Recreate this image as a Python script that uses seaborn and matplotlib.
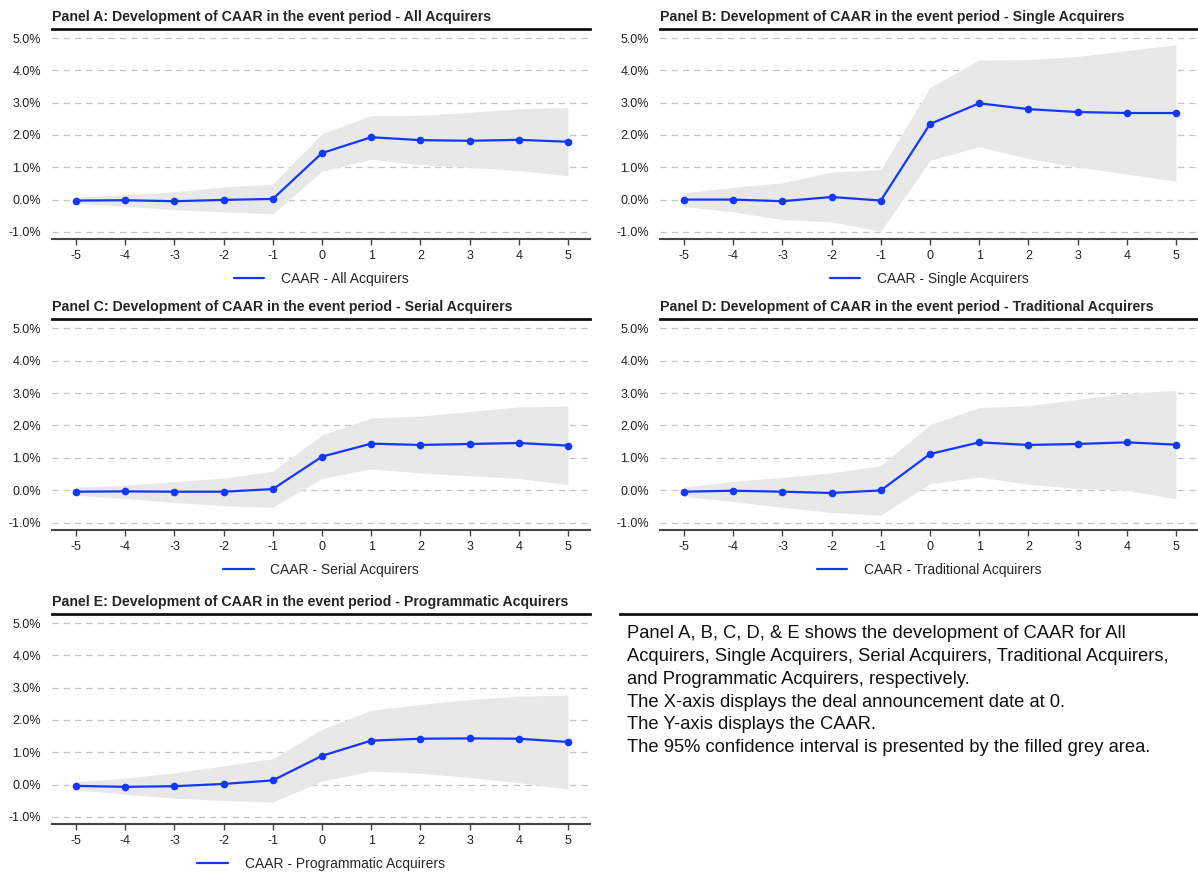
import numpy as np
import pandas as pd
import matplotlib
matplotlib.use("Agg")
import matplotlib.pyplot as plt
import seaborn as sns

# event window
event_days = [-5, -4, -3, -2, -1, 0, 1, 2, 3, 4, 5]

# CAAR in percent
caar_all = [-0.03, -0.02, -0.05, -0.01, 0.02, 1.44, 1.93, 1.84, 1.82, 1.85, 1.79]
upper_all = [0.08, 0.15, 0.24, 0.39, 0.48, 2.04, 2.60, 2.61, 2.70, 2.81, 2.85]
lower_all = [-0.11, -0.21, -0.31, -0.38, -0.44, 0.88, 1.25, 1.08, 1.00, 0.90, 0.74]

caar_single = [0.00, 0.00, -0.05, 0.08, -0.03, 2.34, 2.98, 2.80, 2.71, 2.68, 2.68]
upper_single = [0.21, 0.38, 0.52, 0.85, 0.93, 3.47, 4.32, 4.33, 4.43, 4.61, 4.79]
lower_single = [-0.21, -0.38, -0.62, -0.69, -0.98, 1.21, 1.64, 1.27, 1.01, 0.79, 0.57]

caar_serial = [-0.04, -0.03, -0.04, -0.04, 0.04, 1.04, 1.44, 1.40, 1.43, 1.46, 1.38]
upper_serial = [0.10, 0.16, 0.27, 0.38, 0.59, 1.71, 2.23, 2.29, 2.43, 2.57, 2.60]
lower_serial = [-0.15, -0.25, -0.37, -0.47, -0.52, 0.37, 0.66, 0.54, 0.45, 0.37, 0.18]

caar_trad = [-0.04, -0.01, -0.04, -0.08, 0.00, 1.12, 1.48, 1.40, 1.43, 1.48, 1.41]
upper_trad = [0.10, 0.28, 0.40, 0.54, 0.76, 2.03, 2.55, 2.61, 2.80, 2.99, 3.08]
lower_trad = [-0.19, -0.34, -0.52, -0.68, -0.76, 0.21, 0.41, 0.19, 0.06, 0.00, -0.26]

caar_prog = [-0.04, -0.07, -0.05, 0.02, 0.13, 0.89, 1.36, 1.42, 1.43, 1.42, 1.32]
upper_prog = [0.09, 0.20, 0.36, 0.58, 0.80, 1.71, 2.30, 2.48, 2.63, 2.74, 2.77]
lower_prog = [-0.16, -0.30, -0.42, -0.49, -0.54, 0.11, 0.42, 0.35, 0.22, 0.06, -0.14]

panel_letters = ["A", "B", "C", "D", "E"]
group_names = ["All Acquirers", "Single Acquirers", "Serial Acquirers",
               "Traditional Acquirers", "Programmatic Acquirers"]
caar_series = [caar_all, caar_single, caar_serial, caar_trad, caar_prog]
upper_series = [upper_all, upper_single, upper_serial, upper_trad, upper_prog]
lower_series = [lower_all, lower_single, lower_serial, lower_trad, lower_prog]

y_ticks = [-1, 0, 1, 2, 3, 4, 5]

note_text = ("Panel A, B, C, D, & E shows the development of CAAR for All\n"
             "Acquirers, Single Acquirers, Serial Acquirers, Traditional Acquirers,\n"
             "and Programmatic Acquirers, respectively.\n"
             "The X-axis displays the deal announcement date at 0.\n"
             "The Y-axis displays the CAAR.\n"
             "The 95% confidence interval is presented by the filled grey area.")

sns.set_style("white")
plt.rcParams['font.family'] = ['Liberation Sans', 'DejaVu Sans']

BLUE = "#1238ff"
FILL = "#e8e8e8"

fig = plt.figure(figsize=(11.98, 8.77), dpi=100)
W, H = 1198, 877

# axes boxes in pixels: left, top, right, bottom
boxes = [(52, 29, 590, 239), (660, 29, 1198, 239),
         (52, 319, 590, 530), (660, 319, 1198, 530),
         (52, 614, 590, 824)]

for i, (l, t, r, b) in enumerate(boxes):
    ax = fig.add_axes([l / W, 1 - b / H, (r - l) / W, (b - t) / H])
    df = pd.DataFrame({"day": event_days, "caar": caar_series[i],
                       "upper": upper_series[i], "lower": lower_series[i]})
    ax.fill_between(df["day"], df["lower"], df["upper"], color=FILL, lw=0, zorder=1)
    for yv in y_ticks:
        ax.axhline(yv, color="#c4c4c4", lw=0.9, ls=(0, (5, 4)), zorder=0)
    sns.lineplot(data=df, x="day", y="caar", ax=ax, color=BLUE, lw=1.6,
                 marker="o", markersize=5.5, markeredgewidth=0,
                 label="CAAR - " + group_names[i], zorder=3)
    ax.set_xlim(-5.49, 5.45)
    ax.set_ylim(-1.22, 5.28)
    ax.set_xticks(event_days)
    ax.set_xticklabels([str(d) for d in event_days])
    ax.set_yticks(y_ticks)
    ax.set_yticklabels([f"{v:.1f}%" for v in y_ticks])
    ax.set_xlabel("")
    ax.set_ylabel("")
    ax.tick_params(axis="y", length=0, pad=8, labelsize=9, colors="#222222")
    ax.tick_params(axis="x", length=4, width=1, color="#444444", pad=4,
                   labelsize=9, labelcolor="#222222", bottom=True)
    for side in ["left", "right"]:
        ax.spines[side].set_visible(False)
    ax.spines["top"].set_color("#111111")
    ax.spines["top"].set_linewidth(2.0)
    ax.spines["bottom"].set_color("#444444")
    ax.spines["bottom"].set_linewidth(1.5)
    ax.set_title(f"Panel {panel_letters[i]}: Development of CAAR in the event period - {group_names[i]}",
                 loc="left", fontsize=10.2, fontweight="bold", pad=6, x=0.0)
    leg = ax.legend(loc="center", bbox_to_anchor=(0.5, -40 / (b - t)), frameon=False,
                    fontsize=10, handlelength=2.2, handletextpad=1.2, ncol=1,
                    borderpad=0, borderaxespad=0)
    for h in leg.get_lines():
        h.set_marker("")
        h.set_linewidth(1.6)

# note panel
nax = fig.add_axes([620 / W, 1 - 824 / H, (1198 - 620) / W, (824 - 614) / H])
nax.set_xticks([])
nax.set_yticks([])
for side in ["left", "right", "bottom"]:
    nax.spines[side].set_visible(False)
nax.spines["top"].set_color("#111111")
nax.spines["top"].set_linewidth(2.0)
nax.text(7 / 578, 1 - 11 / 210, note_text, transform=nax.transAxes, va="top", ha="left",
         fontsize=13.2, linespacing=1.45, color="#111111")

fig.savefig("out.png", dpi=100)
